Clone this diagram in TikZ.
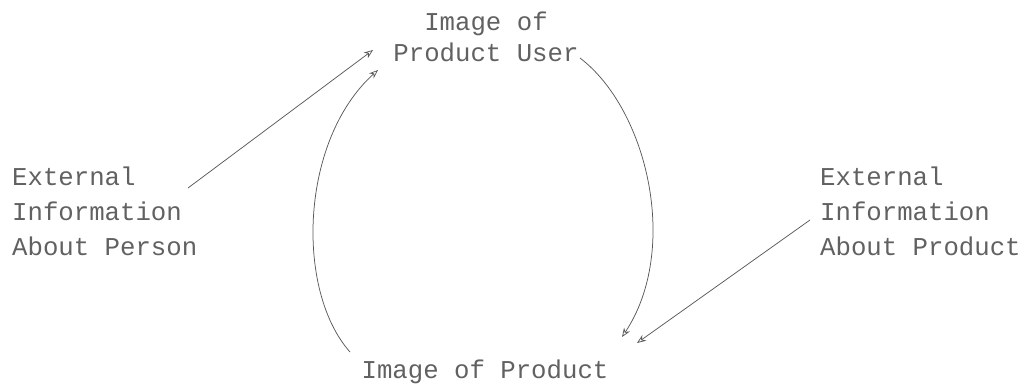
\documentclass[tikz,border=0pt]{standalone}
\usepackage{fontspec}
\setmonofont{Liberation Mono}
\usetikzlibrary{arrows.meta}
\begin{document}
\begin{tikzpicture}[x=1pt,y=-1pt,
  lbl/.style={font=\ttfamily\fontsize{25.7}{35}\selectfont, text=black!62, inner sep=0pt},
  conn/.style={draw=black!65, line width=0.75pt, -{Stealth[open,length=9pt,width=7pt]}}]
\useasboundingbox (0,0) rectangle (1031,389);
\node[lbl, align=center, font=\ttfamily\fontsize{25.7}{31}\selectfont] (user) at (486,37) {Image of\\Product User};
\node[lbl, align=left, anchor=west] (person) at (12,211) {External\\Information\\About Person};
\node[lbl, align=left, anchor=west] (extprod) at (820,211) {External\\Information\\About Product};
\node[lbl] (prod) at (485,372) {Image of Product};
\coordinate (pstart) at (188,188);
\coordinate (ptip) at (373,50);
\coordinate (ustart) at (580,58);
\coordinate (utip) at (622,337);
\coordinate (qstart) at (350,352);
\coordinate (qtip) at (378,70);
\coordinate (estart) at (810,220);
\coordinate (etip) at (637,343);
\draw[conn] (pstart) -- (ptip);
\draw[conn] (ustart) .. controls (648,110) and (680,250) .. (utip);
\draw[conn] (qstart) .. controls (295,290) and (300,140) .. (qtip);
\draw[conn] (estart) -- (etip);
\end{tikzpicture}
\end{document}
